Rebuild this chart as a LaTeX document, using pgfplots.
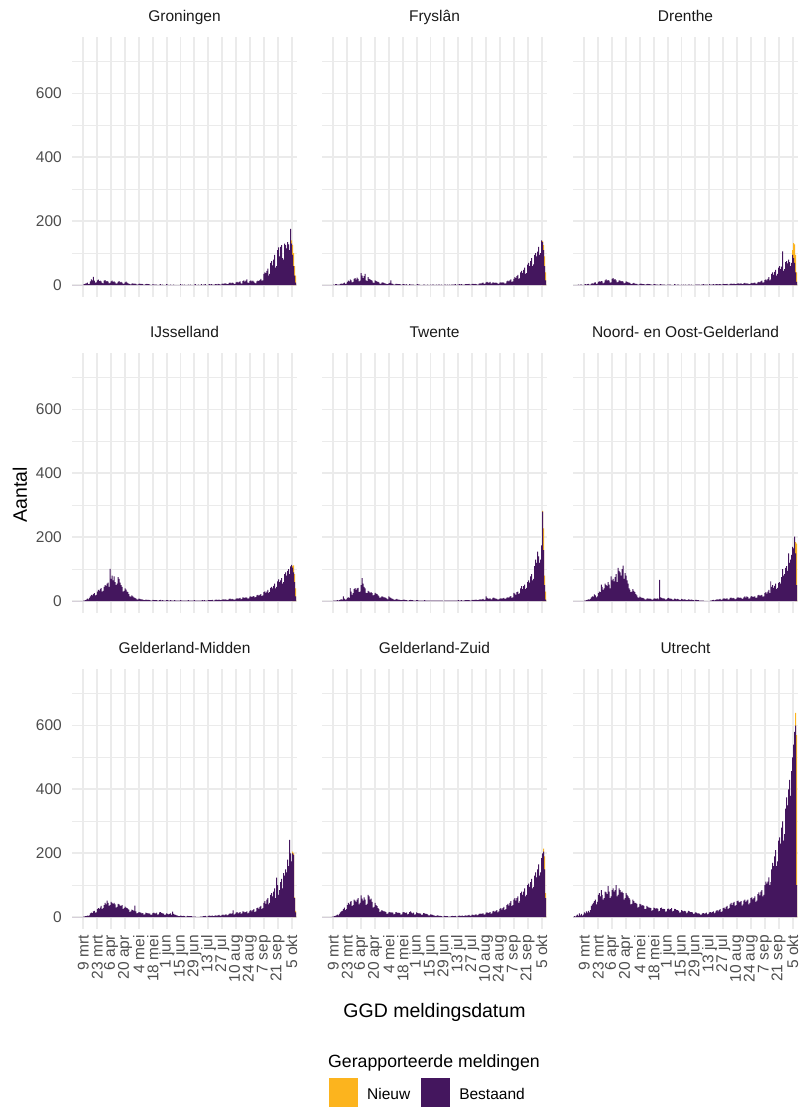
\documentclass[border=0pt]{standalone}
\usepackage{fontspec}
\setmainfont{Liberation Sans}
\usepackage{pgfplots}
\usepackage{pgfplotstable}
\pgfplotsset{compat=1.18}
\definecolor{purp}{HTML}{44165E}
\definecolor{gold}{HTML}{FCB41E}
\definecolor{gridc}{HTML}{EBEBEB}
\definecolor{tickc}{HTML}{4D4D4D}
\definecolor{stripc}{HTML}{1A1A1A}

% Daily counts "Bestaand", first row = 27 feb (day -11, 9 mrt = day 0)
\pgfplotstableread[header=false,row sep=\\]{
0\\0\\0\\0\\0\\0\\0\\
0\\0\\0\\0\\2\\3\\5\\
6\\8\\3\\4\\12\\18\\15\\
26\\14\\8\\9\\15\\17\\13\\
14\\12\\7\\6\\14\\16\\12\\
13\\11\\6\\7\\12\\14\\10\\
12\\9\\5\\6\\10\\13\\9\\
10\\8\\4\\5\\9\\11\\8\\
6\\5\\3\\2\\5\\6\\4\\
5\\4\\2\\2\\4\\5\\3\\
4\\3\\0\\2\\3\\4\\3\\
3\\2\\0\\0\\3\\2\\2\\
2\\2\\0\\0\\2\\3\\0\\
2\\0\\0\\0\\3\\2\\0\\
0\\2\\0\\0\\2\\0\\0\\
0\\0\\0\\0\\3\\0\\2\\
0\\2\\0\\0\\0\\2\\0\\
2\\0\\0\\0\\2\\3\\0\\
0\\2\\0\\0\\3\\0\\2\\
2\\3\\0\\0\\2\\3\\2\\
3\\2\\2\\0\\3\\3\\2\\
4\\3\\2\\2\\5\\4\\5\\
6\\5\\3\\3\\7\\8\\6\\
8\\7\\4\\4\\9\\10\\8\\
10\\12\\6\\5\\13\\15\\11\\
14\\18\\8\\7\\13\\15\\12\\
14\\11\\7\\6\\12\\14\\13\\
16\\20\\14\\15\\35\\40\\38\\
45\\52\\30\\35\\70\\75\\62\\
80\\95\\55\\60\\110\\118\\90\\
120\\125\\85\\80\\130\\125\\115\\
135\\128\\110\\176\\130\\95\\60\\
30\\8\\
}\tG

\pgfplotstableread[header=false,row sep=\\]{
0\\0\\0\\0\\0\\0\\0\\
0\\0\\0\\0\\2\\0\\3\\
3\\2\\2\\2\\4\\5\\4\\
6\\8\\4\\5\\10\\14\\12\\
18\\15\\9\\10\\20\\22\\17\\
24\\20\\12\\14\\38\\30\\22\\
28\\35\\15\\13\\25\\20\\18\\
16\\14\\8\\7\\15\\13\\11\\
10\\9\\5\\4\\8\\9\\7\\
6\\5\\3\\3\\6\\7\\15\\
5\\4\\2\\2\\4\\4\\3\\
3\\3\\2\\0\\3\\3\\2\\
2\\3\\0\\0\\3\\2\\2\\
2\\2\\0\\0\\2\\3\\2\\
2\\0\\0\\0\\2\\2\\0\\
0\\2\\0\\0\\2\\0\\2\\
2\\0\\0\\2\\0\\2\\2\\
0\\2\\0\\0\\2\\2\\0\\
2\\0\\2\\0\\2\\2\\2\\
2\\3\\0\\2\\2\\3\\2\\
3\\2\\2\\0\\3\\3\\3\\
3\\4\\2\\2\\4\\4\\3\\
4\\3\\2\\2\\5\\6\\5\\
7\\8\\4\\5\\9\\10\\8\\
8\\10\\5\\6\\9\\8\\7\\
8\\7\\5\\4\\8\\9\\8\\
9\\8\\5\\6\\12\\14\\12\\
15\\18\\10\\12\\20\\25\\22\\
28\\32\\20\\22\\40\\45\\38\\
48\\55\\35\\38\\64\\70\\60\\
75\\85\\60\\65\\95\\100\\90\\
105\\120\\95\\100\\140\\135\\110\\
60\\15\\
}\tF

\pgfplotstableread[header=false,row sep=\\]{
0\\0\\0\\0\\0\\2\\0\\
2\\2\\0\\0\\2\\3\\2\\
3\\4\\2\\2\\5\\6\\5\\
8\\9\\4\\5\\10\\12\\11\\
13\\12\\6\\8\\15\\18\\14\\
16\\14\\8\\9\\20\\22\\17\\
19\\15\\9\\10\\15\\14\\12\\
13\\11\\6\\7\\12\\10\\9\\
8\\7\\4\\3\\6\\7\\5\\
4\\4\\2\\2\\4\\5\\4\\
3\\3\\2\\2\\3\\4\\3\\
3\\2\\2\\0\\3\\3\\2\\
2\\2\\0\\2\\3\\2\\2\\
2\\2\\0\\0\\2\\2\\2\\
2\\0\\0\\0\\3\\2\\0\\
2\\2\\0\\0\\2\\0\\2\\
0\\2\\0\\0\\2\\2\\0\\
2\\0\\0\\0\\2\\2\\2\\
2\\2\\0\\2\\2\\3\\2\\
2\\2\\2\\0\\3\\2\\2\\
2\\3\\2\\2\\3\\3\\2\\
3\\3\\2\\2\\4\\3\\3\\
3\\4\\2\\2\\4\\5\\4\\
4\\5\\3\\3\\5\\6\\5\\
5\\6\\3\\4\\6\\7\\5\\
6\\5\\4\\3\\6\\7\\6\\
7\\8\\5\\5\\9\\10\\9\\
12\\14\\8\\9\\16\\18\\15\\
20\\25\\15\\18\\35\\40\\32\\
42\\48\\30\\35\\55\\60\\50\\
58\\106\\45\\50\\72\\75\\68\\
80\\72\\60\\70\\95\\85\\70\\
40\\10\\
}\tD

\pgfplotstableread[header=false,row sep=\\]{
0\\0\\0\\0\\0\\0\\0\\
0\\0\\0\\0\\2\\2\\3\\
5\\8\\6\\10\\15\\20\\18\\
22\\25\\18\\20\\30\\35\\33\\
38\\41\\30\\32\\45\\50\\48\\
55\\58\\45\\101\\70\\80\\65\\
78\\60\\50\\55\\75\\70\\58\\
50\\45\\30\\32\\40\\36\\30\\
28\\22\\15\\14\\18\\15\\12\\
10\\9\\6\\5\\8\\7\\6\\
6\\5\\3\\3\\5\\4\\4\\
4\\3\\2\\2\\4\\3\\3\\
3\\3\\2\\2\\3\\4\\2\\
3\\2\\2\\2\\3\\3\\2\\
2\\3\\2\\2\\2\\3\\2\\
2\\2\\2\\2\\3\\2\\2\\
2\\2\\2\\2\\2\\3\\2\\
2\\2\\2\\2\\3\\2\\2\\
2\\2\\2\\2\\2\\3\\2\\
3\\2\\2\\2\\3\\3\\3\\
3\\4\\2\\2\\4\\5\\4\\
4\\5\\3\\3\\5\\6\\5\\
6\\5\\4\\4\\7\\8\\6\\
7\\6\\5\\5\\8\\9\\8\\
9\\10\\6\\7\\12\\11\\10\\
12\\11\\8\\9\\14\\15\\13\\
15\\16\\12\\13\\18\\20\\17\\
20\\22\\16\\18\\28\\31\\26\\
30\\35\\25\\28\\42\\45\\40\\
48\\55\\40\\45\\62\\68\\60\\
65\\72\\55\\60\\85\\90\\80\\
95\\100\\85\\109\\114\\105\\90\\
60\\15\\
}\tI

\pgfplotstableread[header=false,row sep=\\]{
0\\0\\0\\0\\0\\0\\0\\
0\\0\\0\\0\\2\\2\\2\\
2\\3\\2\\3\\5\\6\\5\\
15\\8\\5\\6\\10\\12\\10\\
41\\30\\20\\25\\38\\41\\35\\
40\\42\\28\\30\\50\\72\\55\\
45\\40\\26\\25\\32\\30\\26\\
28\\25\\18\\20\\26\\24\\22\\
18\\15\\10\\12\\15\\14\\12\\
12\\10\\8\\6\\15\\12\\10\\
8\\7\\5\\4\\6\\7\\5\\
5\\4\\3\\3\\4\\5\\4\\
3\\3\\2\\2\\3\\4\\3\\
3\\2\\2\\2\\3\\3\\2\\
2\\2\\2\\2\\2\\3\\2\\
2\\2\\2\\2\\2\\2\\2\\
2\\2\\2\\2\\2\\2\\2\\
2\\2\\2\\0\\2\\2\\2\\
2\\2\\2\\2\\2\\2\\2\\
2\\2\\2\\2\\3\\2\\2\\
3\\2\\2\\2\\3\\3\\3\\
3\\3\\2\\2\\4\\3\\4\\
4\\5\\3\\3\\5\\6\\5\\
6\\7\\4\\5\\15\\10\\8\\
8\\9\\6\\6\\10\\11\\9\\
8\\7\\5\\6\\8\\9\\8\\
9\\10\\7\\8\\11\\12\\11\\
14\\16\\10\\12\\26\\24\\20\\
28\\30\\22\\25\\40\\47\\38\\
47\\52\\38\\42\\60\\65\\58\\
78\\85\\65\\70\\110\\130\\120\\
155\\140\\120\\130\\175\\280\\160\\
50\\5\\
}\tT

\pgfplotstableread[header=false,row sep=\\]{
0\\0\\0\\0\\0\\0\\0\\
0\\0\\0\\0\\2\\2\\3\\
4\\6\\5\\7\\12\\15\\14\\
21\\18\\12\\15\\25\\30\\28\\
52\\45\\35\\40\\55\\50\\48\\
60\\52\\40\\78\\65\\70\\62\\
75\\85\\60\\104\\95\\90\\80\\
100\\111\\70\\88\\80\\65\\55\\
40\\35\\28\\30\\38\\32\\28\\
22\\18\\12\\10\\14\\12\\10\\
10\\9\\6\\5\\8\\9\\7\\
8\\7\\5\\5\\8\\9\\7\\
8\\9\\6\\67\\12\\10\\9\\
9\\8\\5\\6\\9\\10\\8\\
8\\7\\5\\5\\8\\7\\6\\
7\\6\\4\\4\\7\\6\\5\\
6\\5\\3\\3\\6\\5\\4\\
5\\4\\3\\2\\4\\4\\3\\
3\\2\\2\\2\\2\\2\\0\\
0\\0\\0\\0\\0\\2\\2\\
3\\4\\2\\3\\5\\6\\5\\
6\\7\\4\\5\\8\\9\\7\\
8\\9\\5\\6\\10\\11\\9\\
10\\9\\6\\7\\11\\12\\10\\
11\\10\\7\\8\\12\\15\\11\\
15\\13\\8\\9\\14\\16\\13\\
14\\15\\10\\11\\18\\20\\17\\
18\\20\\14\\15\\25\\28\\24\\
30\\35\\25\\62\\45\\50\\42\\
48\\55\\38\\42\\57\\60\\55\\
75\\100\\80\\85\\104\\110\\95\\
150\\120\\130\\145\\170\\165\\202\\
150\\50\\
}\tN

\pgfplotstableread[header=false,row sep=\\]{
0\\0\\0\\0\\0\\0\\0\\
0\\0\\0\\0\\2\\2\\3\\
3\\5\\4\\6\\12\\14\\13\\
18\\20\\14\\15\\25\\28\\26\\
30\\35\\25\\28\\38\\45\\40\\
52\\45\\35\\38\\48\\45\\42\\
45\\40\\30\\32\\42\\40\\36\\
35\\38\\25\\28\\33\\30\\28\\
26\\24\\16\\18\\24\\22\\20\\
36\\18\\12\\13\\16\\15\\14\\
12\\13\\8\\9\\14\\13\\12\\
12\\11\\7\\8\\13\\14\\12\\
12\\14\\8\\9\\15\\16\\13\\
12\\11\\7\\8\\12\\10\\9\\
10\\12\\7\\17\\10\\8\\7\\
6\\5\\3\\3\\5\\4\\3\\
4\\3\\2\\2\\4\\3\\3\\
3\\3\\2\\2\\2\\2\\0\\
0\\0\\0\\2\\2\\2\\3\\
3\\4\\2\\2\\4\\5\\4\\
4\\5\\3\\3\\6\\5\\5\\
6\\7\\4\\5\\7\\8\\6\\
8\\9\\6\\7\\10\\12\\10\\
12\\21\\8\\10\\14\\16\\12\\
14\\16\\10\\12\\18\\17\\15\\
16\\18\\12\\14\\20\\22\\18\\
22\\25\\16\\18\\28\\30\\26\\
32\\35\\25\\28\\45\\50\\42\\
55\\60\\40\\45\\70\\75\\65\\
80\\90\\60\\124\\100\\70\\85\\
110\\120\\90\\138\\130\\150\\140\\
180\\160\\242\\200\\175\\200\\195\\
60\\15\\
}\tM

\pgfplotstableread[header=false,row sep=\\]{
0\\0\\0\\0\\0\\0\\0\\
0\\0\\0\\2\\2\\3\\4\\
6\\8\\6\\10\\15\\18\\20\\
25\\30\\22\\25\\38\\45\\40\\
48\\50\\35\\38\\55\\52\\48\\
55\\60\\40\\45\\68\\58\\52\\
62\\55\\38\\42\\70\\65\\55\\
58\\48\\30\\32\\45\\38\\35\\
28\\25\\16\\18\\22\\20\\18\\
18\\16\\10\\11\\15\\16\\14\\
15\\14\\9\\10\\16\\15\\13\\
14\\13\\8\\9\\15\\16\\14\\
13\\15\\9\\10\\16\\18\\14\\
12\\14\\8\\9\\15\\13\\12\\
12\\11\\7\\8\\13\\12\\10\\
10\\9\\6\\6\\9\\8\\7\\
6\\5\\3\\4\\6\\5\\4\\
4\\3\\2\\2\\4\\3\\3\\
3\\2\\2\\2\\3\\4\\3\\
3\\4\\2\\2\\4\\5\\4\\
4\\5\\3\\3\\6\\5\\5\\
6\\7\\4\\5\\8\\7\\6\\
8\\9\\6\\7\\10\\11\\10\\
11\\12\\8\\9\\14\\15\\13\\
14\\16\\10\\12\\18\\20\\17\\
20\\22\\15\\18\\26\\28\\24\\
28\\32\\22\\25\\38\\42\\36\\
45\\50\\35\\38\\55\\60\\52\\
60\\65\\45\\50\\75\\80\\70\\
80\\90\\65\\70\\100\\105\\95\\
110\\120\\90\\95\\130\\140\\125\\
150\\165\\130\\140\\185\\200\\205\\
150\\60\\
}\tZ

\pgfplotstableread[header=false,row sep=\\]{
0\\3\\2\\5\\8\\4\\12\\
6\\10\\5\\8\\15\\12\\18\\
14\\20\\15\\22\\35\\40\\45\\
50\\55\\40\\48\\70\\75\\65\\
85\\70\\55\\60\\80\\78\\72\\
97\\80\\60\\65\\85\\90\\80\\
85\\100\\65\\70\\90\\85\\78\\
80\\75\\55\\60\\75\\70\\65\\
60\\55\\40\\42\\55\\50\\45\\
45\\42\\30\\32\\42\\40\\36\\
38\\35\\25\\26\\35\\32\\30\\
30\\28\\20\\22\\30\\28\\26\\
28\\26\\18\\20\\28\\30\\25\\
26\\25\\17\\18\\26\\27\\24\\
25\\28\\18\\20\\26\\25\\22\\
22\\20\\14\\15\\22\\20\\18\\
20\\18\\12\\14\\20\\18\\16\\
16\\15\\10\\11\\15\\14\\12\\
12\\11\\8\\8\\12\\13\\11\\
12\\14\\9\\10\\15\\16\\14\\
16\\18\\12\\14\\20\\22\\18\\
22\\25\\16\\18\\28\\30\\26\\
32\\35\\25\\28\\40\\45\\38\\
45\\48\\35\\38\\50\\52\\46\\
48\\50\\36\\40\\52\\55\\48\\
52\\55\\40\\45\\60\\62\\56\\
60\\65\\48\\52\\72\\78\\68\\
80\\85\\65\\70\\100\\111\\105\\
111\\125\\100\\110\\150\\170\\160\\
190\\210\\160\\175\\240\\250\\230\\
280\\300\\240\\260\\340\\375\\350\\
400\\430\\380\\457\\500\\540\\580\\
600\\100\\
}\tU

\pgfplotsset{
  facet/.style={
    scale only axis, width=225pt, height=260pt,
    xmin=-11.5, xmax=215.5, ymin=-37, ymax=777,
    axis line style={draw=none},
    major tick length=0pt, minor tick length=0pt,
    xtick={0,14,...,210}, ytick={0,200,400,600},
    minor ytick={100,300,500,700},
    xmajorgrids=true, ymajorgrids=true, yminorgrids=true,
    major grid style={draw=gridc, line width=1.9pt},
    minor grid style={draw=gridc, line width=0.95pt},
    xticklabels={}, yticklabels={},
    /pgf/number format/assume math mode=true,
    tick label style={font=\fontsize{15.5}{18}\selectfont, text=tickc},
    yticklabel style={anchor=east, inner sep=0pt, xshift=-10pt},
    xticklabel style={yshift=-6pt, rotate=90, anchor=east, inner sep=0pt},
    title style={font=\fontsize{15.5}{18}\selectfont, text=stripc, at={(0.5,1)}, anchor=base, yshift=9pt},
    anchor=south west,
  },
  leftcol/.style={yticklabels={0,200,400,600}},
  bottomrow/.style={xticklabels={9 mrt,23 mrt,6 apr,20 apr,4 mei,18 mei,1 jun,15 jun,29 jun,13 jul,27 jul,10 aug,24 aug,7 sep,21 sep,5 okt}},
  pb/.style={ybar, bar width=1, fill=purp, draw=none},
  py/.style={ybar, bar width=1, fill=gold, draw=none},
}

\begin{document}
\begin{tikzpicture}
\useasboundingbox (0pt,0pt) rectangle (800pt,1110pt);

% Row 1
\begin{axis}[facet, leftcol, at={(72pt,813pt)}, title={Groningen}]
\addplot[py] coordinates {(210,140) (211,125) (212,100) (213,60) (214,30)};
\addplot[pb] table[x expr=\coordindex-11, y index=0] {\tG};
\end{axis}
\begin{axis}[facet, at={(322pt,813pt)}, title={Fryslân}]
\addplot[py] coordinates {(211,138) (212,125) (213,90) (214,40)};
\addplot[pb] table[x expr=\coordindex-11, y index=0] {\tF};
\end{axis}
\begin{axis}[facet, at={(573pt,813pt)}, title={Drenthe}]
\addplot[py] coordinates {(210,110) (211,132) (212,128) (213,95) (214,40)};
\addplot[pb] table[x expr=\coordindex-11, y index=0] {\tD};
\end{axis}

% Row 2
\begin{axis}[facet, leftcol, at={(72pt,497pt)}, title={IJsselland}]
\addplot[py] coordinates {(211,110) (212,112) (213,85) (214,40)};
\addplot[pb] table[x expr=\coordindex-11, y index=0] {\tI};
\end{axis}
\begin{axis}[facet, at={(322pt,497pt)}, title={Twente}]
\addplot[py] coordinates {(211,283) (212,228) (213,80) (214,30)};
\addplot[pb] table[x expr=\coordindex-11, y index=0] {\tT};
\end{axis}
\begin{axis}[facet, at={(573pt,497pt)}, title={Noord- en Oost-Gelderland}]
\addplot[py] coordinates {(213,185) (214,180)};
\addplot[pb] table[x expr=\coordindex-11, y index=0] {\tN};
\end{axis}

% Row 3
\begin{axis}[facet, leftcol, bottomrow, at={(72pt,181pt)}, title={Gelderland-Midden}]
\addplot[py] coordinates {(211,205) (212,200) (213,62) (214,20)};
\addplot[pb] table[x expr=\coordindex-11, y index=0] {\tM};
\end{axis}
\begin{axis}[facet, bottomrow, at={(322pt,181pt)}, title={Gelderland-Zuid},
  legend columns=2,
  legend style={draw=none, fill=none, at={(0.471,-0.573)}, anchor=north,
    font=\fontsize{15.5}{18}\selectfont, inner sep=0pt,
    /tikz/every even column/.append style={column sep=9pt},
    cells={anchor=west}}]
\addplot[py, legend image code/.code={\fill[gold] (0pt,-13pt) rectangle (29pt,16pt); \path (36pt,0pt);}] coordinates {(212,215) (213,190) (214,75)};
\addlegendentry{Nieuw}
\addplot[pb, legend image code/.code={\fill[purp] (0pt,-13pt) rectangle (29pt,16pt); \path (36pt,0pt);}] table[x expr=\coordindex-11, y index=0] {\tZ};
\addlegendentry{Bestaand}
\end{axis}
\begin{axis}[facet, bottomrow, at={(573pt,181pt)}, title={Utrecht}]
\addplot[py] coordinates {(213,640) (214,570)};
\addplot[pb] table[x expr=\coordindex-11, y index=0] {\tU};
\end{axis}

\node[rotate=90, font=\fontsize{19.5}{22}\selectfont] at (20pt,615pt) {Aantal};
\node[font=\fontsize{19.5}{22}\selectfont] at (434.5pt,98pt) {GGD meldingsdatum};
\node[font=\fontsize{17.7}{20}\selectfont] at (434pt,47pt) {Gerapporteerde meldingen};
\end{tikzpicture}
\end{document}
